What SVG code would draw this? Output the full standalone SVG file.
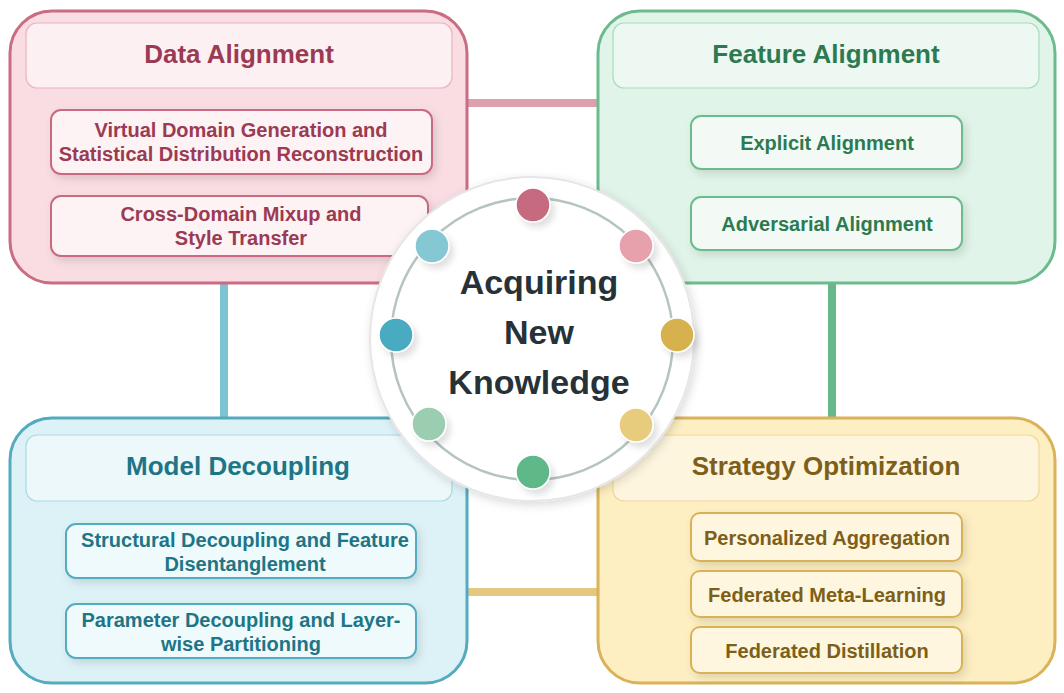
<svg xmlns="http://www.w3.org/2000/svg" width="1064" height="693" viewBox="0 0 1064 693">
<defs>
<filter id="sh" x="-20%" y="-20%" width="140%" height="150%"><feDropShadow dx="3" dy="4" stdDeviation="4" flood-color="#000" flood-opacity="0.12"/></filter>
<filter id="shc" x="-20%" y="-20%" width="140%" height="140%"><feDropShadow dx="2" dy="3" stdDeviation="5" flood-color="#000" flood-opacity="0.15"/></filter>
<filter id="shd" x="-50%" y="-50%" width="200%" height="200%"><feDropShadow dx="4" dy="5" stdDeviation="3" flood-color="#000" flood-opacity="0.12"/></filter>
</defs>
<style>
text{font-family:"Liberation Sans",Arial,sans-serif;font-weight:bold;text-anchor:middle}
.h{font-size:26px}
.s{font-size:20px}
.c{font-size:34px;fill:#263238}
.outer{stroke-width:3}
.hdr{stroke-width:1.2}
.sub{stroke-width:2;filter:url(#sh)}
.pk .outer{fill:#f9dde3;stroke:#c96d82}.pk .hdr{fill:#fdf0f2;stroke:#e8b4c0}.pk .sub{fill:#fdf2f4;stroke:#c86a80}.pk text{fill:#9b3a53}
.gr .outer{fill:#e1f4e9;stroke:#6dbb8d}.gr .hdr{fill:#eef8f2;stroke:#a9dbbd}.gr .sub{fill:#f3faf6;stroke:#6dbb8d}.gr text{fill:#2e7a50}
.bl .outer{fill:#ddf2f7;stroke:#54abc0}.bl .hdr{fill:#ecf8fa;stroke:#a8dbe5}.bl .sub{fill:#effafc;stroke:#54abc0}.bl text{fill:#1e7585}
.yl .outer{fill:#fdefc2;stroke:#d9b259}.yl .hdr{fill:#fef5de;stroke:#efd79a}.yl .sub{fill:#fef6de;stroke:#d9b259}.yl text{fill:#7d5f1a}
.dot{stroke:#fff;stroke-width:1.5;filter:url(#shd)}
</style>
<g id="connectors">
<line x1="465" y1="103" x2="600" y2="103" stroke="#dba0ac" stroke-width="8"/>
<line x1="224" y1="281" x2="224" y2="420" stroke="#7cc4d3" stroke-width="8"/>
<line x1="832" y1="281" x2="832" y2="420" stroke="#66b88a" stroke-width="8"/>
<line x1="465" y1="592" x2="600" y2="592" stroke="#e6c77f" stroke-width="8"/>
</g>
<g id="data-alignment" class="pk">
<rect class="outer" x="10" y="11" width="457" height="272" rx="42"/>
<rect class="hdr" x="26" y="23" width="426" height="65" rx="11"/>
<text class="h" x="239" y="63">Data Alignment</text>
<rect class="sub" x="51" y="110" width="381" height="64" rx="10"/>
<text class="s" x="241" y="137">Virtual Domain Generation and</text>
<text class="s" x="241" y="161">Statistical Distribution Reconstruction</text>
<rect class="sub" x="51" y="196" width="377" height="60" rx="10"/>
<text class="s" x="241" y="221">Cross-Domain Mixup  and</text>
<text class="s" x="241" y="245">Style Transfer</text>
</g>
<g id="feature-alignment" class="gr">
<rect class="outer" x="598" y="11" width="457" height="272" rx="42"/>
<rect class="hdr" x="613" y="23" width="426" height="65" rx="11"/>
<text class="h" x="826" y="63">Feature Alignment</text>
<rect class="sub" x="691" y="116" width="271" height="53" rx="10"/>
<text class="s" x="827" y="150">Explicit Alignment</text>
<rect class="sub" x="691" y="197" width="271" height="53" rx="10"/>
<text class="s" x="827" y="231">Adversarial Alignment</text>
</g>
<g id="model-decoupling" class="bl">
<rect class="outer" x="10" y="418" width="457" height="265" rx="42"/>
<rect class="hdr" x="26" y="435" width="426" height="66" rx="11"/>
<text class="h" x="238" y="475">Model Decoupling</text>
<rect class="sub" x="66" y="524" width="350" height="54" rx="10"/>
<text class="s" x="245" y="547">Structural Decoupling and Feature</text>
<text class="s" x="245" y="571">Disentanglement</text>
<rect class="sub" x="66" y="604" width="350" height="54" rx="10"/>
<text class="s" x="241" y="627">Parameter Decoupling and Layer-</text>
<text class="s" x="241" y="651">wise Partitioning</text>
</g>
<g id="strategy-optimization" class="yl">
<rect class="outer" x="598" y="418" width="457" height="265" rx="42"/>
<rect class="hdr" x="613" y="435" width="426" height="66" rx="11"/>
<text class="h" x="826" y="475">Strategy Optimization</text>
<rect class="sub" x="691" y="513" width="271" height="48" rx="9"/>
<text class="s" x="827" y="545">Personalized Aggregation</text>
<rect class="sub" x="691" y="571" width="271" height="46" rx="9"/>
<text class="s" x="827" y="602">Federated Meta-Learning</text>
<rect class="sub" x="691" y="627" width="271" height="46" rx="9"/>
<text class="s" x="827" y="658">Federated Distillation</text>
</g>
<g id="center">
<circle cx="532" cy="339" r="162" fill="#fff" stroke="#e6e6e6" stroke-width="2" filter="url(#shc)"/>
<circle cx="532" cy="339" r="141" fill="none" stroke="#b3c4c2" stroke-width="2.5"/>
<circle class="dot" cx="533" cy="205" r="17" fill="#c66b80"/>
<circle class="dot" cx="636" cy="246" r="17" fill="#e6a1ad"/>
<circle class="dot" cx="677" cy="335" r="17" fill="#d8b150"/>
<circle class="dot" cx="636" cy="425" r="17" fill="#e8cc7e"/>
<circle class="dot" cx="533" cy="472" r="17" fill="#5fb887"/>
<circle class="dot" cx="429" cy="424" r="17" fill="#9bcdb0"/>
<circle class="dot" cx="396" cy="335" r="17" fill="#4aabc2"/>
<circle class="dot" cx="432" cy="246" r="17" fill="#85c8d3"/>
<text class="c" x="539" y="294">Acquiring</text>
<text class="c" x="539" y="344">New</text>
<text class="c" x="539" y="394">Knowledge</text>
</g>
</svg>
